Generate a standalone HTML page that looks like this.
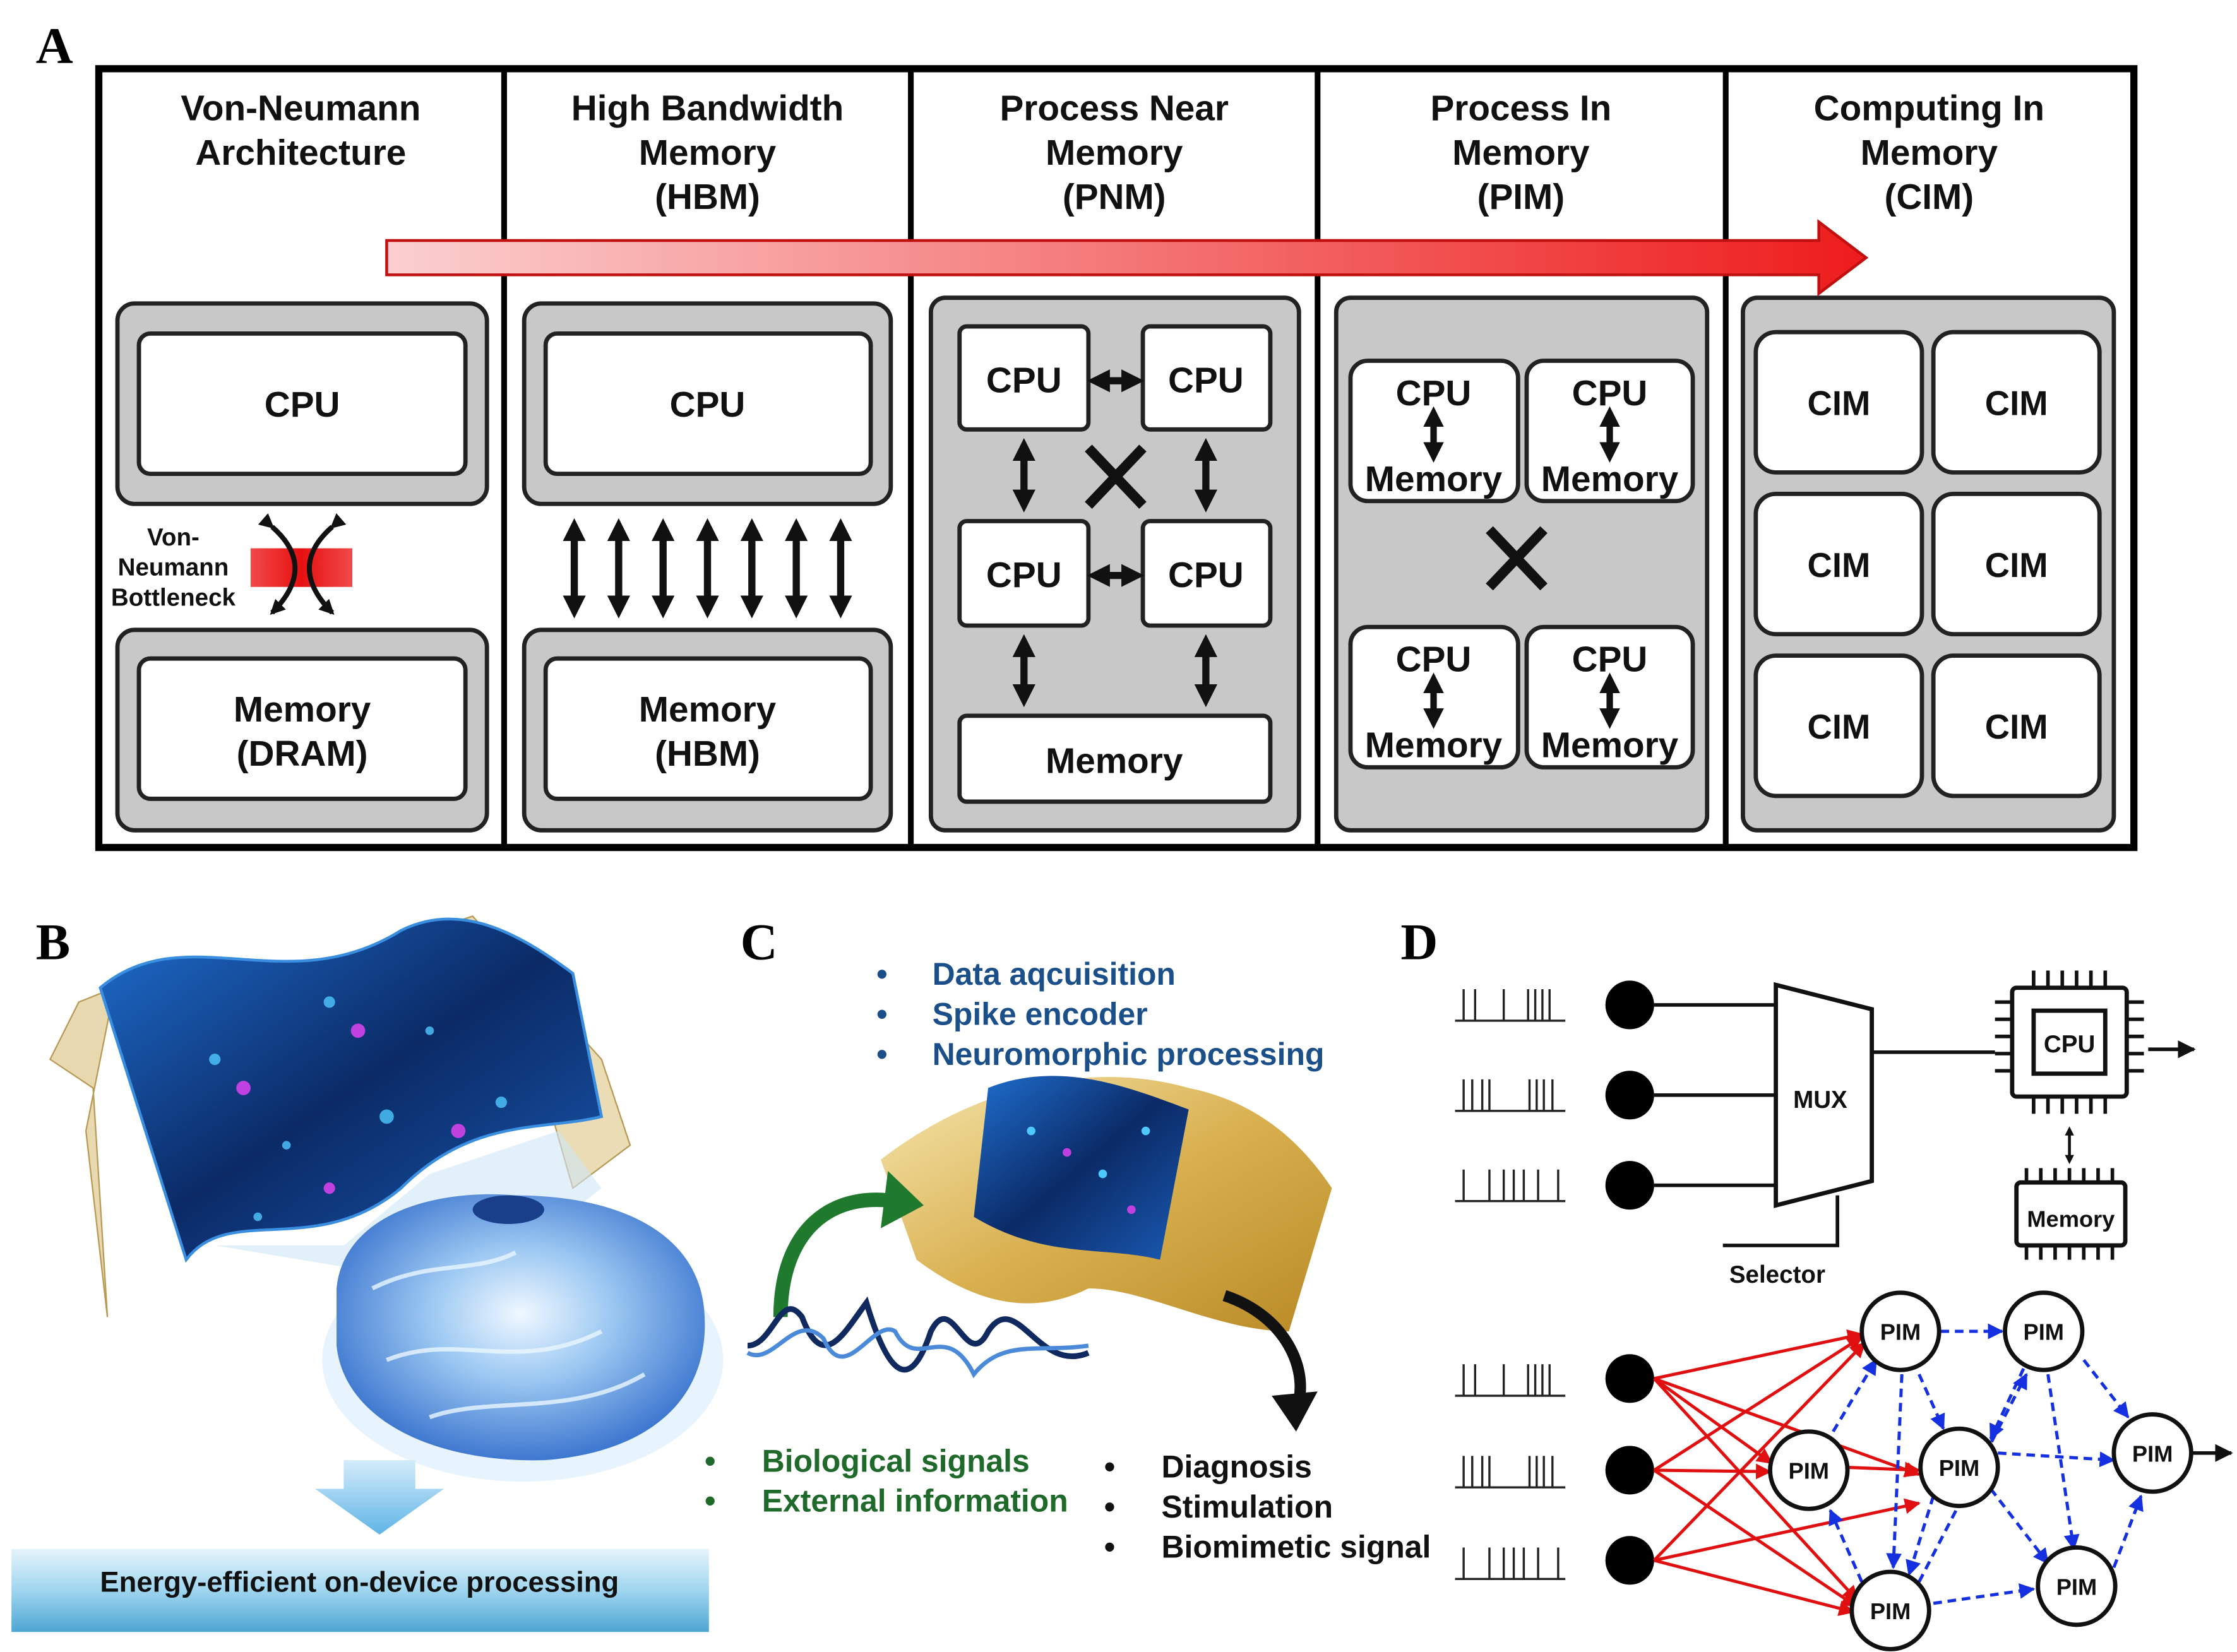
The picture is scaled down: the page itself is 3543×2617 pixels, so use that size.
<!DOCTYPE html>
<html><head><meta charset="utf-8"><style>
html,body{margin:0;padding:0;background:#fff}
svg{display:block}
text{font-family:"Liberation Sans",Arial,sans-serif}
</style></head><body>
<svg width="3543" height="2617" viewBox="0 0 1562 1154" preserveAspectRatio="none" xmlns="http://www.w3.org/2000/svg">
<defs>
<linearGradient id="ar" x1="0" x2="1"><stop offset="0" stop-color="#fbd0d0"/><stop offset="1" stop-color="#ee1c1c"/></linearGradient>
<linearGradient id="rb" x1="0" x2="1"><stop offset="0" stop-color="#f04a4a"/><stop offset="0.5" stop-color="#e81010"/><stop offset="1" stop-color="#f04a4a"/></linearGradient>
<linearGradient id="btn" x1="0" y1="0" x2="0" y2="1"><stop offset="0" stop-color="#e6f4fb"/><stop offset="0.5" stop-color="#9fd5ef"/><stop offset="1" stop-color="#4ea6d4"/></linearGradient>
<linearGradient id="sheet" x1="0" y1="0" x2="1" y2="1"><stop offset="0" stop-color="#1f6fd0"/><stop offset="0.5" stop-color="#0b2a66"/><stop offset="1" stop-color="#1a5bb5"/></linearGradient>
<radialGradient id="brain" cx="0.5" cy="0.45" r="0.55"><stop offset="0" stop-color="#f0f8ff"/><stop offset="0.45" stop-color="#9cc8f2"/><stop offset="1" stop-color="#3f78d0"/></radialGradient>
<linearGradient id="gold" x1="0" y1="0" x2="1" y2="1"><stop offset="0" stop-color="#f6e7b0"/><stop offset="0.5" stop-color="#d9b050"/><stop offset="1" stop-color="#b88a25"/></linearGradient>
<linearGradient id="down" x1="0" y1="0" x2="0" y2="1"><stop offset="0" stop-color="#d4ecfa"/><stop offset="1" stop-color="#5fb4e6"/></linearGradient>
<marker id="ma" viewBox="0 0 10 10" refX="9" refY="5" markerWidth="5" markerHeight="5" orient="auto"><path d="M0,0L10,5L0,10z" fill="#111"/></marker>
<marker id="mr" viewBox="0 0 10 10" refX="9" refY="5" markerWidth="5" markerHeight="5" orient="auto"><path d="M0,0L10,5L0,10z" fill="#e01010"/></marker>
<marker id="mb" viewBox="0 0 10 10" refX="9" refY="5" markerWidth="5" markerHeight="5" orient="auto"><path d="M0,0L10,5L0,10z" fill="#1530e0"/></marker>
<marker id="dv" viewBox="0 0 10 10" refX="5" refY="5" markerWidth="3.2" markerHeight="3.2" orient="auto-start-reverse"><path d="M0,0L10,5L0,10z" fill="#111"/></marker>
<marker id="bn" viewBox="0 0 10 10" refX="8" refY="5" markerWidth="3" markerHeight="3" orient="auto"><path d="M0,0L10,5L0,10z" fill="#111"/></marker>
</defs>

<g font-weight="bold" font-size="36">
<text x="25" y="44" style="font-family:'Liberation Serif',serif">A</text>
<text x="25" y="670" style="font-family:'Liberation Serif',serif">B</text>
<text x="517" y="670" style="font-family:'Liberation Serif',serif">C</text>
<text x="978" y="670" style="font-family:'Liberation Serif',serif">D</text>
</g>

<rect x="69" y="48" width="1421" height="544" fill="#fff" stroke="#000" stroke-width="5"/>
<g stroke="#000" stroke-width="4">
<line x1="352" y1="48" x2="352" y2="592"/><line x1="636" y1="48" x2="636" y2="592"/>
<line x1="920" y1="48" x2="920" y2="592"/><line x1="1205" y1="48" x2="1205" y2="592"/>
</g>
<g font-size="25" font-weight="bold" text-anchor="middle" fill="#111">
<text x="210" y="84">Von-Neumann</text><text x="210" y="115">Architecture</text>
<text x="494" y="84">High Bandwidth</text><text x="494" y="115">Memory</text><text x="494" y="146">(HBM)</text>
<text x="778" y="84">Process Near</text><text x="778" y="115">Memory</text><text x="778" y="146">(PNM)</text>
<text x="1062" y="84">Process In</text><text x="1062" y="115">Memory</text><text x="1062" y="146">(PIM)</text>
<text x="1347" y="84">Computing In</text><text x="1347" y="115">Memory</text><text x="1347" y="146">(CIM)</text>
</g>

<g stroke="#222" stroke-width="3">
<rect x="82" y="212" width="258" height="140" rx="12" fill="#c8c8c8"/>
<rect x="97" y="233" width="228" height="98" rx="8" fill="#fff"/>
<rect x="82" y="440" width="258" height="140" rx="12" fill="#c8c8c8"/>
<rect x="97" y="460" width="228" height="98" rx="8" fill="#fff"/>
<rect x="366" y="212" width="256" height="140" rx="12" fill="#c8c8c8"/>
<rect x="381" y="233" width="227" height="98" rx="8" fill="#fff"/>
<rect x="366" y="440" width="256" height="140" rx="12" fill="#c8c8c8"/>
<rect x="381" y="460" width="227" height="98" rx="8" fill="#fff"/>
<rect x="650" y="208" width="257" height="372" rx="10" fill="#c8c8c8"/>
<rect x="933" y="208" width="259" height="372" rx="10" fill="#c8c8c8"/>
<rect x="1217" y="208" width="259" height="372" rx="10" fill="#c8c8c8"/>
</g>
<g font-size="25" font-weight="bold" text-anchor="middle" fill="#111">
<text x="211" y="291">CPU</text>
<text x="211" y="504">Memory</text><text x="211" y="535">(DRAM)</text>
<text x="494" y="291">CPU</text>
<text x="494" y="504">Memory</text><text x="494" y="535">(HBM)</text>
</g>
<g font-size="17" font-weight="bold" text-anchor="middle" fill="#111">
<text x="121" y="381">Von-</text><text x="121" y="402">Neumann</text><text x="121" y="423">Bottleneck</text>
</g>
<rect x="175" y="383" width="71" height="27" fill="url(#rb)"/>
<g stroke="#111" stroke-width="3.5" fill="none" marker-end="url(#bn)" marker-start="url(#bn)">
<path d="M190,368 Q222,396 190,428"/>
<path d="M232,368 Q200,396 232,428"/>
</g>

<g stroke="#111" stroke-width="5" marker-start="url(#dv)" marker-end="url(#dv)">
<line x1="401" y1="370" x2="401" y2="424"/><line x1="432" y1="370" x2="432" y2="424"/>
<line x1="463" y1="370" x2="463" y2="424"/><line x1="494" y1="370" x2="494" y2="424"/>
<line x1="525" y1="370" x2="525" y2="424"/><line x1="556" y1="370" x2="556" y2="424"/>
<line x1="587" y1="370" x2="587" y2="424"/>
</g>

<g stroke="#222" stroke-width="3" fill="#fff">
<rect x="670" y="228" width="90" height="72" rx="5"/><rect x="798" y="228" width="89" height="72" rx="5"/>
<rect x="670" y="364" width="90" height="73" rx="5"/><rect x="798" y="364" width="89" height="73" rx="5"/>
<rect x="670" y="500" width="217" height="60" rx="5"/>
</g>
<g font-size="25" font-weight="bold" text-anchor="middle" fill="#111">
<text x="715" y="274">CPU</text><text x="842" y="274">CPU</text>
<text x="715" y="410">CPU</text><text x="842" y="410">CPU</text>
<text x="778" y="540">Memory</text>
</g>
<g stroke="#111" stroke-width="5" marker-start="url(#dv)" marker-end="url(#dv)">
<line x1="767" y1="266" x2="791" y2="266"/><line x1="767" y1="402" x2="791" y2="402"/>
<line x1="715" y1="314" x2="715" y2="350"/><line x1="842" y1="314" x2="842" y2="350"/>
<line x1="715" y1="451" x2="715" y2="486"/><line x1="842" y1="451" x2="842" y2="486"/>
</g>
<g stroke="#111" stroke-width="7"><line x1="760" y1="313" x2="798" y2="353"/><line x1="798" y1="313" x2="760" y2="353"/></g>

<g stroke="#222" stroke-width="3" fill="#fff">
<rect x="943" y="252" width="117" height="98" rx="12"/><rect x="1066" y="252" width="116" height="98" rx="12"/>
<rect x="943" y="438" width="117" height="98" rx="12"/><rect x="1066" y="438" width="116" height="98" rx="12"/>
</g>
<g font-size="25" font-weight="bold" text-anchor="middle" fill="#111">
<text x="1001" y="283">CPU</text><text x="1124" y="283">CPU</text>
<text x="1001" y="343">Memory</text><text x="1124" y="343">Memory</text>
<text x="1001" y="469">CPU</text><text x="1124" y="469">CPU</text>
<text x="1001" y="529">Memory</text><text x="1124" y="529">Memory</text>
</g>
<g stroke="#111" stroke-width="4.5" marker-start="url(#dv)" marker-end="url(#dv)">
<line x1="1001" y1="291" x2="1001" y2="316"/><line x1="1124" y1="291" x2="1124" y2="316"/>
<line x1="1001" y1="477" x2="1001" y2="502"/><line x1="1124" y1="477" x2="1124" y2="502"/>
</g>
<g stroke="#111" stroke-width="7"><line x1="1040" y1="370" x2="1078" y2="410"/><line x1="1078" y1="370" x2="1040" y2="410"/></g>

<g stroke="#222" stroke-width="3" fill="#fff">
<rect x="1226" y="232" width="116" height="98" rx="14"/><rect x="1350" y="232" width="116" height="98" rx="14"/>
<rect x="1226" y="345" width="116" height="98" rx="14"/><rect x="1350" y="345" width="116" height="98" rx="14"/>
<rect x="1226" y="458" width="116" height="98" rx="14"/><rect x="1350" y="458" width="116" height="98" rx="14"/>
</g>
<g font-size="24" font-weight="bold" text-anchor="middle" fill="#111">
<text x="1284" y="290">CIM</text><text x="1408" y="290">CIM</text>
<text x="1284" y="403">CIM</text><text x="1408" y="403">CIM</text>
<text x="1284" y="516">CIM</text><text x="1408" y="516">CIM</text>
</g>

<path d="M270,168 L1270,168 L1270,155 L1303,180 L1270,205 L1270,192 L270,192 Z" fill="url(#ar)" stroke="#c01010" stroke-width="2"/>

<!-- Panel B -->
<path d="M35,740 L55,700 L80,690 L60,790 L75,920 L65,760 Z" fill="#e8d9b0" stroke="#b89a55" stroke-width="1"/>
<path d="M300,650 L330,640 L420,740 L440,800 L400,830 L380,760 Z" fill="#eadcb5" stroke="#b89a55" stroke-width="1"/>
<path d="M150,870 L240,870 L300,820 L390,790 L420,830 L330,900 Z" fill="#cfe6f7" opacity="0.6"/>
<path d="M70,690 C130,640 200,700 280,650 C320,630 360,650 400,680 L420,780 C380,790 330,780 280,830 C220,880 160,840 130,880 Z" fill="url(#sheet)" stroke="#3a8ee0" stroke-width="2"/>
<g fill="#4fc8ff" opacity="0.8">
<circle cx="150" cy="740" r="4"/><circle cx="230" cy="700" r="4"/><circle cx="300" cy="720" r="3"/><circle cx="350" cy="770" r="4"/>
<circle cx="200" cy="800" r="3"/><circle cx="270" cy="780" r="5"/><circle cx="180" cy="850" r="3"/></g>
<g fill="#c040e0"><circle cx="170" cy="760" r="5"/><circle cx="250" cy="720" r="5"/><circle cx="320" cy="790" r="5"/><circle cx="230" cy="830" r="4"/></g>
<ellipse cx="365" cy="950" rx="140" ry="85" fill="#d8ecfb" opacity="0.6"/>
<path d="M235,900 C240,850 300,830 360,835 C430,835 490,860 492,920 C495,980 450,1015 380,1020 C300,1022 240,990 235,940 Z" fill="url(#brain)"/>
<path d="M260,900 C300,880 330,890 360,875 M270,950 C320,930 360,960 420,930 M300,990 C340,975 400,990 450,960" fill="none" stroke="#eaf6ff" stroke-width="3" opacity="0.8"/>
<ellipse cx="355" cy="845" rx="25" ry="10" fill="#1a3f8a"/>
<path d="M240,1020 L290,1020 L290,1040 L310,1040 L265,1072 L220,1040 L240,1040 Z" fill="url(#down)"/>
<rect x="8" y="1082" width="487" height="58" fill="url(#btn)"/>
<text x="251" y="1112" font-size="20" font-weight="bold" text-anchor="middle" fill="#111">Energy-efficient on-device processing</text>

<!-- Panel C -->
<g font-size="22" font-weight="bold" fill="#1b4f8a">
<text x="612" y="688">•</text><text x="651" y="688">Data aqcuisition</text>
<text x="612" y="716">•</text><text x="651" y="716">Spike encoder</text>
<text x="612" y="744">•</text><text x="651" y="744">Neuromorphic processing</text>
</g>
<path d="M615,810 C680,760 760,740 830,760 C880,770 910,800 930,830 L900,930 C850,930 800,900 760,900 C720,920 680,910 640,880 Z" fill="url(#gold)"/>
<path d="M690,760 C740,740 790,760 830,775 L810,880 C770,870 730,880 680,850 Z" fill="url(#sheet)"/>
<g fill="#4fc8ff"><circle cx="720" cy="790" r="3"/><circle cx="770" cy="820" r="3"/><circle cx="800" cy="790" r="3"/></g>
<g fill="#c040e0"><circle cx="745" cy="805" r="3"/><circle cx="790" cy="845" r="3"/></g>
<path d="M545,920 C545,860 580,830 630,840" fill="none" stroke="#1f7a2e" stroke-width="10"/>
<path d="M620,818 L645,842 L615,858 Z" fill="#1f7a2e"/>
<path d="M855,905 C900,920 915,960 905,985" fill="none" stroke="#111" stroke-width="8"/>
<path d="M888,975 L905,1000 L920,972 Z" fill="#111"/>
<path d="M522,940 C540,940 545,900 560,920 C575,960 590,930 605,910 C620,960 635,975 650,930 C665,900 675,960 690,930 C710,900 725,960 760,945" fill="none" stroke="#102a60" stroke-width="4"/>
<path d="M522,945 C540,955 555,915 575,935 C590,970 610,920 625,930 C640,960 660,920 680,960 C700,935 725,945 760,940" fill="none" stroke="#4a8ad8" stroke-width="3"/>
<g font-size="22" font-weight="bold" fill="#1f6a2a">
<text x="492" y="1028">•</text><text x="532" y="1028">Biological signals</text>
<text x="492" y="1056">•</text><text x="532" y="1056">External information</text>
</g>
<g font-size="22" font-weight="bold" fill="#111">
<text x="771" y="1032">•</text><text x="811" y="1032">Diagnosis</text>
<text x="771" y="1060">•</text><text x="811" y="1060">Stimulation</text>
<text x="771" y="1088">•</text><text x="811" y="1088">Biomimetic signal</text>
</g>

<!-- Panel D -->
<g stroke="#222" stroke-width="1.5" fill="none">
<path d="M1016,713 H1093 M1022,713V691 M1030,713V691 M1050,713V691 M1067,713V691 M1072,713V691 M1077,713V691 M1082,713V691"/>
<path d="M1016,776 H1093 M1022,776V754 M1028,776V754 M1035,776V754 M1040,776V754 M1068,776V754 M1073,776V754 M1078,776V754 M1084,776V754"/>
<path d="M1016,839 H1093 M1022,839V817 M1040,839V817 M1050,839V817 M1057,839V817 M1064,839V817 M1074,839V817 M1088,839V817"/>
<path d="M1016,975 H1093 M1022,975V953 M1030,975V953 M1050,975V953 M1067,975V953 M1072,975V953 M1077,975V953 M1082,975V953"/>
<path d="M1016,1039 H1093 M1022,1039V1017 M1028,1039V1017 M1035,1039V1017 M1040,1039V1017 M1068,1039V1017 M1073,1039V1017 M1078,1039V1017 M1084,1039V1017"/>
<path d="M1016,1103 H1093 M1022,1103V1081 M1040,1103V1081 M1050,1103V1081 M1057,1103V1081 M1064,1103V1081 M1074,1103V1081 M1088,1103V1081"/>
</g>
<g fill="#000"><circle cx="1138" cy="702" r="17"/><circle cx="1138" cy="765" r="17"/><circle cx="1138" cy="828" r="17"/>
<circle cx="1138" cy="963" r="17"/><circle cx="1138" cy="1027" r="17"/><circle cx="1138" cy="1090" r="17"/></g>
<g stroke="#111" stroke-width="2.5" fill="none">
<line x1="1155" y1="702" x2="1240" y2="702"/><line x1="1155" y1="765" x2="1240" y2="765"/><line x1="1155" y1="828" x2="1240" y2="828"/>
<path d="M1240,688 L1307,705 L1307,825 L1240,842 Z" stroke-width="3"/>
<path d="M1283,835 L1283,870 L1203,870"/>
<line x1="1307" y1="735" x2="1393" y2="735"/>
<line x1="1500" y1="733" x2="1532" y2="733" marker-end="url(#ma)"/>
</g>
<text x="1271" y="774" font-size="17" font-weight="bold" text-anchor="middle" fill="#111">MUX</text>
<text x="1241" y="896" font-size="17" font-weight="bold" text-anchor="middle" fill="#111">Selector</text>
<g stroke="#111" stroke-width="3">
<g stroke-width="2.5">
<path d="M1420,678V690 M1430,678V690 M1440,678V690 M1450,678V690 M1460,678V690 M1470,678V690"/>
<path d="M1420,766V778 M1430,766V778 M1440,766V778 M1450,766V778 M1460,766V778 M1470,766V778"/>
<path d="M1393,700H1405 M1393,712H1405 M1393,724H1405 M1393,736H1405 M1393,748H1405"/>
<path d="M1485,700H1497 M1485,712H1497 M1485,724H1497 M1485,736H1497 M1485,748H1497"/>
<path d="M1415,816V826 M1425,816V826 M1435,816V826 M1445,816V826 M1455,816V826 M1465,816V826 M1475,816V826"/>
<path d="M1415,870V880 M1425,870V880 M1435,870V880 M1445,870V880 M1455,870V880 M1465,870V880 M1475,870V880"/>
</g>
<rect x="1405" y="690" width="80" height="76" fill="#fff" rx="3"/>
<rect x="1420" y="706" width="50" height="44" fill="#fff"/>
<rect x="1408" y="826" width="76" height="44" fill="#fff" rx="3"/>
</g>
<text x="1445" y="735" font-size="17" font-weight="bold" text-anchor="middle" fill="#111">CPU</text>
<text x="1446" y="857" font-size="16" font-weight="bold" text-anchor="middle" fill="#111">Memory</text>
<line x1="1445" y1="790" x2="1445" y2="810" stroke="#111" stroke-width="2" marker-start="url(#dv)" marker-end="url(#dv)"/>

<g stroke="#e01010" stroke-width="2.2" fill="none" marker-end="url(#mr)">
<line x1="1155" y1="963" x2="1300" y2="932"/><line x1="1155" y1="963" x2="1237" y2="1022"/><line x1="1155" y1="963" x2="1297" y2="1118"/>
<line x1="1155" y1="1027" x2="1300" y2="934"/><line x1="1155" y1="1027" x2="1236" y2="1028"/><line x1="1155" y1="1027" x2="1296" y2="1122"/>
<line x1="1155" y1="1090" x2="1302" y2="938"/><line x1="1155" y1="1090" x2="1340" y2="1050"/><line x1="1155" y1="1090" x2="1294" y2="1126"/>
<line x1="1155" y1="963" x2="1340" y2="1030"/><line x1="1290" y1="1025" x2="1340" y2="1027"/>
</g>
<g stroke="#1530e0" stroke-width="2.2" stroke-dasharray="6,4" fill="none" marker-end="url(#mb)">
<line x1="1355" y1="930" x2="1398" y2="930"/>
<line x1="1280" y1="1000" x2="1310" y2="950"/>
<line x1="1340" y1="960" x2="1357" y2="998"/>
<line x1="1328" y1="960" x2="1322" y2="1095"/>
<line x1="1413" y1="956" x2="1390" y2="1005"/>
<line x1="1455" y1="950" x2="1486" y2="990"/>
<line x1="1430" y1="960" x2="1448" y2="1082"/>
<line x1="1390" y1="1040" x2="1430" y2="1092"/>
<line x1="1350" y1="1120" x2="1420" y2="1110"/>
<line x1="1476" y1="1095" x2="1495" y2="1045"/>
<line x1="1395" y1="1015" x2="1476" y2="1020"/>
<line x1="1340" y1="1105" x2="1415" y2="960"/>
<line x1="1300" y1="1105" x2="1278" y2="1055"/>
<line x1="1350" y1="1045" x2="1333" y2="1100"/>
</g>
<g stroke="#111" stroke-width="3" fill="#fff">
<circle cx="1327" cy="930" r="27"/><circle cx="1427" cy="930" r="27"/><circle cx="1263" cy="1027" r="27"/>
<circle cx="1368" cy="1025" r="27"/><circle cx="1503" cy="1015" r="27"/><circle cx="1320" cy="1125" r="27"/><circle cx="1450" cy="1108" r="27"/>
</g>
<g font-size="16" font-weight="bold" text-anchor="middle" fill="#111">
<text x="1327" y="936">PIM</text><text x="1427" y="936">PIM</text><text x="1263" y="1033">PIM</text>
<text x="1368" y="1031">PIM</text><text x="1503" y="1021">PIM</text><text x="1320" y="1131">PIM</text><text x="1450" y="1114">PIM</text>
</g>
<line x1="1530" y1="1015" x2="1558" y2="1015" stroke="#111" stroke-width="2.5" marker-end="url(#ma)"/>
</svg>
</body></html>
